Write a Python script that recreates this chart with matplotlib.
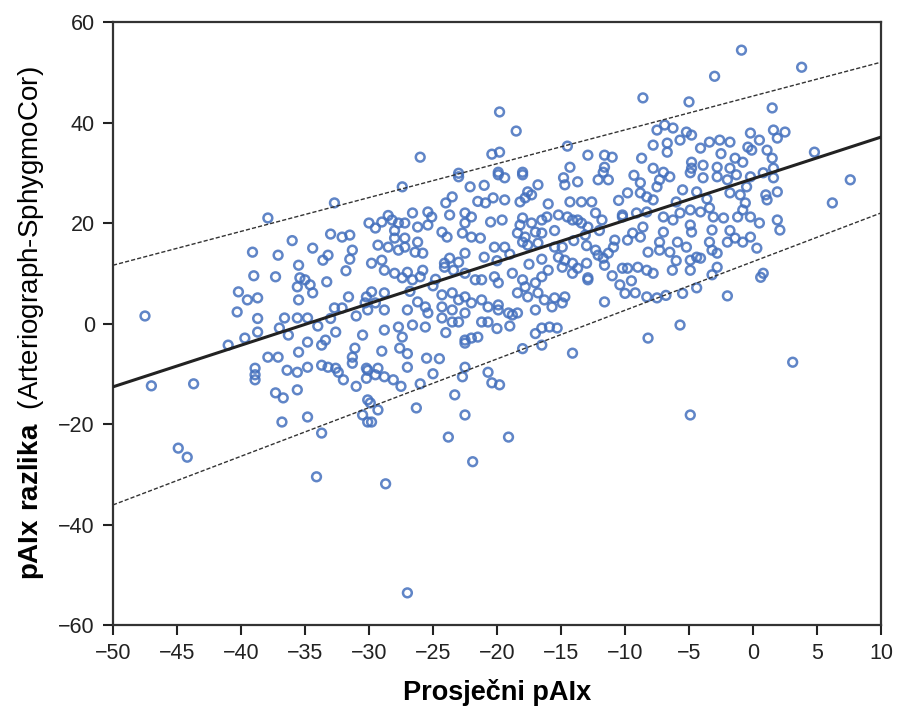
import matplotlib
matplotlib.use("Agg")
import matplotlib.pyplot as plt
import numpy as np

# ---- data ----
pts_left = [(-47.5,1.5),(-47,-12.4),(-43.7,-12),(-44.9,-24.8),(-44.2,-26.6),(-41,-4.3),(-39.7,-2.9),(-38.7,-1.7),
 (-38.7,1),(-37.9,-6.7),(-37.1,-6.7),(-38.9,-8.9),(-38.9,-10.2),(-38.9,-11.2),(-37.3,-13.8),(-36.7,-14.8),
 (-35.6,-13.2),(-36.8,-19.6),(-34.8,-18.6),(-33.7,-21.8),(-36.4,-9.3),(-35.6,-9.7),(-34.8,-8.7),(-35.5,-5.7),
 (-34.8,-3.7),(-33.7,-4.3),(-33.4,-3.3),(-32.6,-1.7),(-33.7,-8.3),(-33.2,-8.7),(-32.6,-8.9),(-32.4,-9.7),
 (-32,-11.2),(-31.3,-6.7),(-31.3,-7.9),(-31.1,-4.9),(-30.5,-2.3),(-30.2,-8.9),(-30.2,-10.9),(-30.5,-18.2),
 (-30.1,-19.6),(-36.6,1.1),(-35.6,1.1),(-34.8,1.1),(-37,-0.9),(-36.3,-2.3),(-30.1,-15.2),
 (-39.1,14.2),(-37.1,13.6),(-39,9.5),(-37.3,9.3),(-40.2,6.3),(-39.5,4.7),(-38.7,5.1),(-40.3,2.3),(-37.9,21),
 (-32.7,24),(-34.4,15),(-35.5,11.6),(-35.4,9.1),(-35,8.7),(-34.6,7.7),(-34.4,6.1),(-35.6,7.3),(-35.5,4.7),
 (-33.6,12.6),(-33.2,13.6),(-33.3,8.3),(-32.1,17.2),(-31.5,17.6),(-31.3,14.6),(-31.5,12.8),(-31.6,5.3),
 (-32.7,3.1),(-32.1,3.1),(-30.2,5.3),(-30.3,4.1),(-30.1,2.7)]

pts_top = [(-19.8,42.1),(-18.5,38.3),(-26,33.1),(-20.4,33.7),(-19.8,34.1),(-14.5,35.3),(-12.9,33.5),(-11.6,33.5),
 (-11,33.1),(-11.6,31.1),(-11.7,30.1),(-14.3,31.1),(-19.9,30.1),(-18,30.1),(-23,29.9),(-0.9,54.4),(3.8,51),
 (-3,49.2),(-8.6,44.9),(-5,44.1),(1.5,42.9),(4.8,34.1),(-7.5,38.5),(-6.9,39.5),(-6.25,38.9),(-5.2,38.1),
 (-4.8,37.5),(-7.8,35.5),(-6.7,35.9),(-6.7,34.1),(-5.7,36.5),(-4.1,34.9),(-3.4,36.1),(-2.6,36.5),(-1.8,36.1),
 (-0.2,37.9),(0.5,36.5),(-0.4,35.1),(-0.1,34.5),(1.6,38.5),(2.5,38.1),(1.9,36.9),(1.1,34.5),(1.5,32.9),
 (1.6,30.9),(-8.7,32.9),(-7.8,30.9),(-7,30.1),(-4.8,32.1),(-4.8,30.9),(-3.9,31.5),(-2.8,31.1),(-1.8,30.9),
 (-1.4,32.9),(-0.8,32.1)]

pts_mid = [(-27.4,27.2),(-23,29.2),(-22.1,27.2),(-19.9,29.6),(-19.4,29),(-18,29.6),(-16.8,27.6),(-17.6,26.2),
 (-17.3,25.6),(-17.8,25),(-18.2,24.2),(-14.8,29),(-14.7,27.6),(-13.7,28.2),(-12.1,28.6),(-11.3,28.6),(-20.9,24),
 (-20.3,25),(-19.4,24.6),(-14.3,24.2),(-13.4,24.2),(-12.6,24.2),(-9.8,26),(-26.6,22),(-25.4,22.2),(-25.1,21.2),
 (-23.7,21.6),(-22.5,22),(-22,21.2),(-20.5,20.2),(-19.6,20.6),(-18,21),(-18.2,19.6),(-17.3,20),(-16.5,20.6),
 (-16.1,21.2),(-15.2,21.6),(-14.5,21.2),(-14.1,20.6),(-13.7,20.6),(-12.3,22),(-11.8,20.6),(-10.2,21.6),(-29,20.2),
 (-28.2,20.6),(-27.7,20),(-27.2,20),(-26.2,19.2),(-25.4,19.6),(-24.3,18.2),(-23.9,17.2),(-29.3,15.6),(-28.5,15.2),
 (-27.7,14.6),(-27.2,15.2),(-28,17),(-27.2,17),(-26.2,16.2),(-26.4,14.2),(-25.8,14),(-23.7,13),(-24.1,12),
 (-23,12.2),(-22.5,14),(-22.5,20),(-22.7,18),(-22,17.2),(-21.3,17),(-20.2,15.2),(-19.4,15.2),(-18.4,18),
 (-17.8,17.2),(-17,18.2),(-16.5,18),(-18,16.2),(-17.6,15.6),(-16.8,16),(-15.5,15.2),(-14.9,15.2),(-15.2,13.2),
 (-14.7,12.6),(-14.9,11.2),(-14.1,12),(-13.4,20),(-12.9,19.2),(-13.1,17.6),(-12.3,14.6),(-12.1,13.6),(-11.7,13),
 (-11.3,14),(-10.9,15.2),(-10.8,16.6),(-13,12),(-13.7,11),(-11.6,11.6),(-14.1,10),(-12.9,8.7),(-10.2,11),
 (-29.8,12),(-29,12.6),(-28.8,10.6),(-28,10),(-27,10.2),(-27.4,9.1),(-26.6,8.7),(-25.8,10.6),(-26,9.3),
 (-29.8,6.3),(-28.8,6.1),(-29.5,4.1),(-26.2,4.3),(-25.6,3.3),(-24.3,5.7),(-23.5,6.1),(-23,4.7),(-22.5,5.3),
 (-22,4.1),(-21.2,4.7),(-20.7,3.3),(-19.9,3.7),(-24.1,11.2),(-23.4,10.6),(-22.5,10),(-21.7,8.7),(-21.2,8.7),
 (-20.2,9.3),(-19.9,8.1),(-18.8,10),(-18,8.7),(-17.8,7.3),(-17,8.1),(-16.5,9.3),(-16,10.6),(-18.4,6.1),
 (-17.6,5.3),(-16.8,6.1),(-16.3,4.7),(-15.5,5.1),(-14.7,5.3),(-19.9,2.7),(-19.1,2.1),(-18.4,2.1),(-17,2.7),
 (-15.7,3.3),(-14.9,4.1),(-12.9,9.1),(-11.6,4.3),(-10.4,7.7),(-24.3,3.3),(-23.5,2.7),(-22.5,2.1),(-28.8,2.7),
 (-27,2.7),(-25.4,2.1)]

pts_right = [(-8.8,26),(-8.3,25.2),(-7.8,24.6),(-8.8,28),(-7.5,27.2),(-7.3,28.6),(-6.5,29.2),(-4.9,30),(-3.9,29),
 (-2.8,29.2),(-2,28.6),(-1.3,29.6),(-0.2,29.2),(0.8,30),(1.6,29),(-5.5,26.6),(-4.4,26.2),(-1.8,26),(-1,25.6),
 (-0.6,24),(1,25.6),(1.9,26.2),(1.1,24.6),(7.6,28.6),(6.2,24),(-10.2,21.2),(-9.1,22),(-8.3,22.2),(-7,21.2),
 (-6.25,20.6),(-5.7,22),(-4.9,22.6),(-4.1,22.2),(-3.4,23),(-3.1,21.2),(-2.3,21),(-1.2,21.2),(-0.8,22.6),
 (-0.2,21.2),(1.9,20.6),(2.1,18.6),(-9.4,18),(-8.6,19.2),(-8.8,17.2),(-9.8,16.6),(-7,18.2),(-7.3,16.2),
 (-7.3,14.6),(-6.5,14.2),(-5.9,16.2),(-5.2,15.2),(-4.9,19.6),(-4.8,18.2),(-4.4,13.2),(-4.9,12.6),(-4.1,13),
 (-3.2,18.6),(-3.4,16.2),(-3.2,14.6),(-2.8,14),(-2,16.2),(-1.4,17),(-0.8,16.2),(-0.2,17.2),(0.3,15),(-9.8,11),
 (-9,11.2),(-8.3,10.6),(-7.8,10),(-6.3,10.6),(-4.9,10.6),(-2.8,11.2),(-9.2,6.1),(-8.3,5.3),(-7.5,5.1),
 (-4.4,7.1),(-3.2,9.7),(0.8,10),(0.6,9.2)]

pts_low = [(-28.8,-1.3),(-27.7,-0.7),(-27.4,-2.7),(-26.6,-0.3),(-25.6,-0.7),(-24.3,1.1),(-23.5,0.3),(-23,0.3),
 (-22.5,-3.3),(-22,-2.9),(-21.5,-2.7),(-22.5,-3.9),(-21.2,0.3),(-20.7,0.3),(-18.8,1.7),(-16.5,-0.9),(-15.3,-0.9),
 (-15.9,-0.7),(-16.5,-4.3),(-14.1,-5.9),(-27.6,-4.9),(-27,-8.7),(-25.5,-6.9),(-30.1,-9.3),(-29.3,-8.9),
 (-28.8,-10.6),(-28.1,-11.2),(-22.5,-8.7),(-22.7,-10.6),(-20.7,-9.7),(-20.4,-11.8),(-19.8,-12.2),(-23.3,-14.2),
 (-26.3,-16.8),(-22.5,-18.2),(-23.8,-22.6),(-19.1,-22.6),(-21.9,-27.5),(-29.9,-15.8),(-29.8,-19.6),(-29.3,-17.2),
 (-5.7,-0.3),(-8.2,-2.9),(3.1,-7.7),(-4.9,-18.2),(-34.1,-30.5),(-28.7,-31.9),(-27,-53.6)]

# extra points in the dense core of the cloud
pts_core = [(-31,-12.5),(-29.5,-10.2),(-26,-12),(-25,-10),(-24.5,-7),(-27.5,-12.5),(-18,-5),(-17,-2),
 (-30,20),(-29.5,19),(-28.5,21.5),(-28,18.5),(-24,24),(-23.5,25.2),(-21.5,24.3),(-15.5,18.5),(-14,16.5),
 (-13,15.5),(-12,18.5),(-11,9.5),(-10,6),(-9.5,8.5),(-6.8,5.6),(-5.5,6),(-2,5.5),(-3.6,24.8),(-6,24.2),
 (-9.3,29.5),(-10.5,24.5),(-20,12.5),(-21,13.2),(-19,13.8),(-17.5,11.8),(-16.5,12.8),(-25,7.5),(-26.8,6.4),
 (-24.8,8.8),(-31.8,10.5),(-33,1),(-31,1.5),(-34,-0.5),(-24,-1.8),(-20,-1),(-19,-0.5),(-27,-6),(-2.5,33.8),
 (-0.5,27.2),(0.5,20),(-1.8,18.5),(-6,12.5),(-8.2,14.2),(-36,16.5),(-29,-5.5),(-33,17.8),(-21,27.5),(-16,23.8)]

# regression line and limits (endpoints at x = -50 and x = 10)
line_x = [-50, 10]
fit_y = [-12.6, 37.1]
upper_y = [11.6, 52.0]
lower_y = [-36.1, 22.0]

x_ticks = [-50, -45, -40, -35, -30, -25, -20, -15, -10, -5, 0, 5, 10]
y_ticks = [-60, -40, -20, 0, 20, 40, 60]

# ---- plotting ----
plt.rcParams['font.family'] = ['Liberation Sans', 'DejaVu Sans']
plt.rcParams['mathtext.fontset'] = 'custom'
plt.rcParams['mathtext.rm'] = 'Liberation Sans'
plt.rcParams['mathtext.bf'] = 'Liberation Sans:bold'

fig = plt.figure(figsize=(9.01, 7.24), dpi=100)
ax = fig.add_axes([0.1254, 0.1367, 0.8524, 0.8329])

all_pts = pts_left + pts_top + pts_mid + pts_right + pts_low + pts_core
xs = np.array([p[0] for p in all_pts])
ys = np.array([p[1] for p in all_pts])

ax.scatter(xs, ys, s=40, facecolors='none', edgecolors='#4470bd', linewidths=1.8, alpha=0.85, zorder=2)
ax.plot(line_x, fit_y, color='#222222', lw=2.2, zorder=3)
ax.plot(line_x, upper_y, color='#333333', lw=1.0, ls=(0, (3, 1.5)), zorder=3)
ax.plot(line_x, lower_y, color='#333333', lw=1.0, ls=(0, (3, 1.5)), zorder=3)

def fmt(v):
    return ('\u2212' + str(abs(v))) if v < 0 else str(v)

ax.set_xlim(-50, 10)
ax.set_ylim(-60, 60)
ax.set_xticks(x_ticks)
ax.set_xticklabels([fmt(v) for v in x_ticks])
ax.set_yticks(y_ticks)
ax.set_yticklabels([fmt(v) for v in y_ticks])
ax.tick_params(direction='out', length=7, width=1.5, labelsize=15.5, pad=6, colors='#222222')
for sp in ax.spines.values():
    sp.set_linewidth(1.6)
    sp.set_color('#333333')

ax.set_xlabel('Prosječni pAIx', fontsize=19.5, fontweight='bold', labelpad=11)
ax.set_ylabel(r'$\mathbf{pAIx\ razlika}$  (Arteriograph-SphygmoCor)', fontsize=20, labelpad=9)

fig.savefig('out.png', dpi=100)
